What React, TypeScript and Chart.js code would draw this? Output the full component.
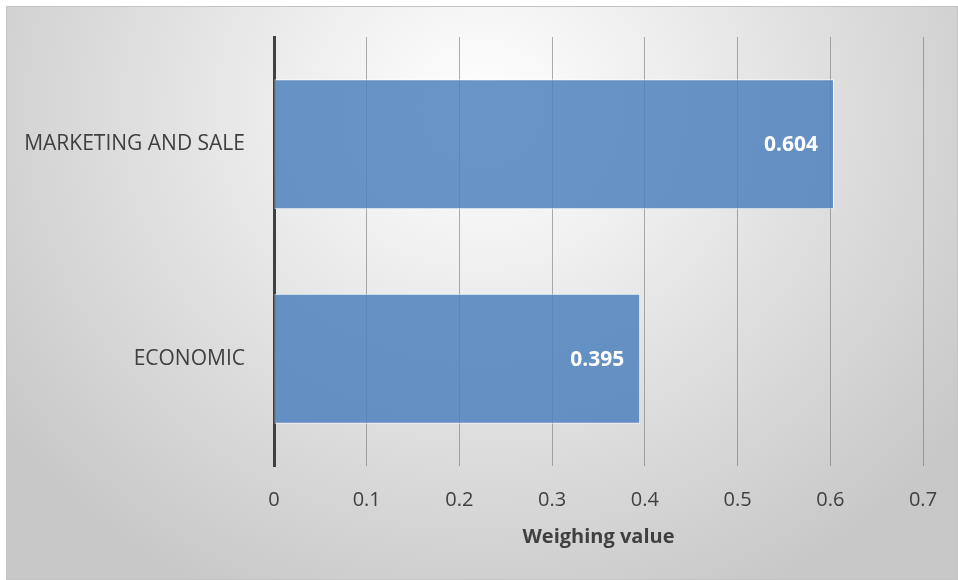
import React, { useEffect, useRef } from "react";
import { Chart, registerables } from "chart.js";

Chart.register(...registerables);

const categories = ["MARKETING AND SALE", "ECONOMIC"];
const weights = [0.604, 0.395];
const xTicks = [0, 0.1, 0.2, 0.3, 0.4, 0.5, 0.6, 0.7];
const xTitle = "Weighing value";

const FONT = "'Open Sans', 'Noto Sans', sans-serif";
const TEXT = "#404040";

const valueLabels = {
  id: "valueLabels",
  afterDatasetsDraw(chart: any) {
    const ctx = chart.ctx;
    const meta = chart.getDatasetMeta(0);
    ctx.save();
    ctx.fillStyle = "#ffffff";
    ctx.font = `bold 21px ${FONT}`;
    ctx.textAlign = "right";
    ctx.textBaseline = "middle";
    meta.data.forEach((bar: any, i: number) => {
      ctx.fillText(weights[i].toFixed(3), bar.x - 16, bar.y + 1);
    });
    ctx.restore();
  },
};

export default function App() {
  const ref = useRef<HTMLCanvasElement>(null);
  useEffect(() => {
    if (!ref.current) return;
    const chart = new Chart(ref.current, {
      type: "bar",
      data: {
        labels: categories,
        datasets: [
          {
            data: weights,
            backgroundColor: "rgba(79,129,189,0.85)",
            borderColor: "rgba(255,255,255,0.75)",
            borderWidth: 1,
            borderSkipped: false,
            categoryPercentage: 1,
            barPercentage: 0.606,
          },
        ],
      },
      options: {
        indexAxis: "y",
        animation: false,
        responsive: false,
        events: [],
        layout: { padding: { top: 30, right: 34, left: 0, bottom: 30 } },
        plugins: { legend: { display: false }, tooltip: { enabled: false } },
        scales: {
          x: {
            min: 0,
            max: 0.7,
            afterBuildTicks: (s: any) => {
              s.ticks = xTicks.map((v) => ({ value: v }));
            },
            afterFit: (s: any) => {
              s.height = 83;
              s.paddingLeft = 0;
              s.paddingRight = 0;
            },
            grid: { color: "rgba(110,110,110,0.55)", lineWidth: 1, drawTicks: false },
            border: { display: false },
            ticks: {
              padding: 22,
              color: TEXT,
              font: { family: FONT, size: 20 },
              callback: (v: any) => String(Math.round(Number(v) * 10) / 10),
            },
            title: {
              display: true,
              text: xTitle,
              color: TEXT,
              font: { family: FONT, size: 20, weight: "bold" },
              padding: { top: 12, bottom: 0 },
            },
          },
          y: {
            afterFit: (s: any) => {
              s.width = 267;
              s.paddingTop = 0;
              s.paddingBottom = 0;
            },
            grid: { display: false, drawTicks: false },
            border: { display: true, color: "#404040", width: 3 },
            ticks: {
              padding: 29,
              color: TEXT,
              font: { family: FONT, size: 21 },
            },
          },
        },
      },
      plugins: [valueLabels],
    });
    return () => chart.destroy();
  }, []);

  return (
    <div
      style={{
        position: "absolute",
        left: 6,
        top: 6,
        width: 952,
        height: 574,
        boxSizing: "border-box",
        border: "1px solid #c4c4c4",
        background:
          "radial-gradient(ellipse 62% 95% at 50% 18%, #ffffff 0%, #f2f2f2 25%, #dddddd 62%, #c8c8c8 100%)",
      }}
    >
      <canvas ref={ref} width={950} height={572} style={{ display: "block" }} />
    </div>
  );
}
